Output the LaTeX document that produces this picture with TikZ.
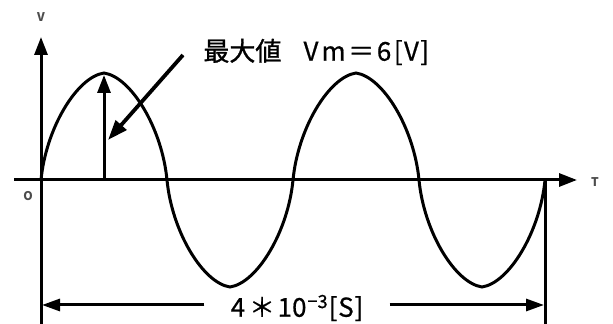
\documentclass[tikz,border=0pt]{standalone}
\usepackage{fontspec}
\setmainfont{Noto Sans CJK JP}
\newfontfamily\medfont[FakeBold=1.2]{Noto Sans CJK JP}
\newfontfamily\semifont[FakeBold=0.6]{Noto Sans CJK JP}
\usetikzlibrary{arrows.meta,positioning}

\begin{document}
\begin{tikzpicture}[
    x=0.5pt, y=0.5pt,
    axis/.style={line width=1.5pt,-{Triangle[length=9pt,width=6.5pt]}},
    wave/.style={line width=1.5pt,line join=miter},
    pointer/.style={line width=1.9pt,-{Triangle[length=10pt,width=7pt]}},
    dimline/.style={line width=1.5pt,-{Triangle[length=9pt,width=6pt]}},
    lbl/.style={font=\fontsize{6}{7}\selectfont\bfseries,inner sep=0pt,text=black!70},
    title/.style={font=\fontsize{13}{15}\selectfont\semifont,inner sep=0pt,anchor=west},
    dimtext/.style={font=\fontsize{13}{15}\selectfont\semifont,inner xsep=13pt,inner ysep=0pt}
  ]
  \useasboundingbox (0,0) rectangle (613,324);
  % axes
  \coordinate (O) at (41,144);
  \coordinate (xstart) at (14,144);
  \coordinate (xend) at (577,144);
  \coordinate (ybot) at (41,0);
  \coordinate (ytop) at (41,287);
  \draw[axis] (xstart) -- (xend);
  \draw[axis] (ybot) -- (ytop);
  \node[lbl] (vlabel) at (41,307) {V};
  \node[lbl] (tlabel) at (595,142) {T};
  \node[lbl] (olabel) at (28,128) {O};
  % wave, two periods
  \draw[wave] (O) \foreach \c in {41,293} {
      .. controls ({\c+5},196) and ({\c+36},247) .. ({\c+63},251)
      .. controls ({\c+90},247) and ({\c+121},196) .. ({\c+126},144)
      .. controls ({\c+131},92) and ({\c+162},41) .. ({\c+189},37)
      .. controls ({\c+216},41) and ({\c+247},92) .. ({\c+252},144)
    } coordinate (E);
  \coordinate (Ebot) at (545,0);
  \draw[line width=1.5pt] (E) -- (Ebot);
  % maximum value
  \coordinate (base) at (104,144);
  \coordinate (peak) at (104,249);
  \draw[axis] (base) -- (peak);
  \node[title] (vm) at (203,272) {{\medfont 最大値}\hspace{0.85em}V\hspace{0.12em}m\hspace{0.1em}＝\hspace{0.1em}6\hspace{0.1em}[\hspace{0.05em}V\hspace{0.05em}]};
  \coordinate (ptr) at (183,269);
  \coordinate (ptrend) at (108,184);
  \draw[pointer] (ptr) -- (ptrend);
  % period
  \node[dimtext] (per) at (297,16) {4\hspace{0.15em}＊\hspace{0.1em}10\textsuperscript{\hspace{0.05em}−3}[\hspace{0.03em}S\hspace{0.03em}]};
  \coordinate (dl) at (42,19);
  \coordinate (dr) at (544,19);
  \draw[dimline] (per.west |- dl) -- (dl);
  \draw[dimline] (per.east |- dr) -- (dr);
\end{tikzpicture}
\end{document}
